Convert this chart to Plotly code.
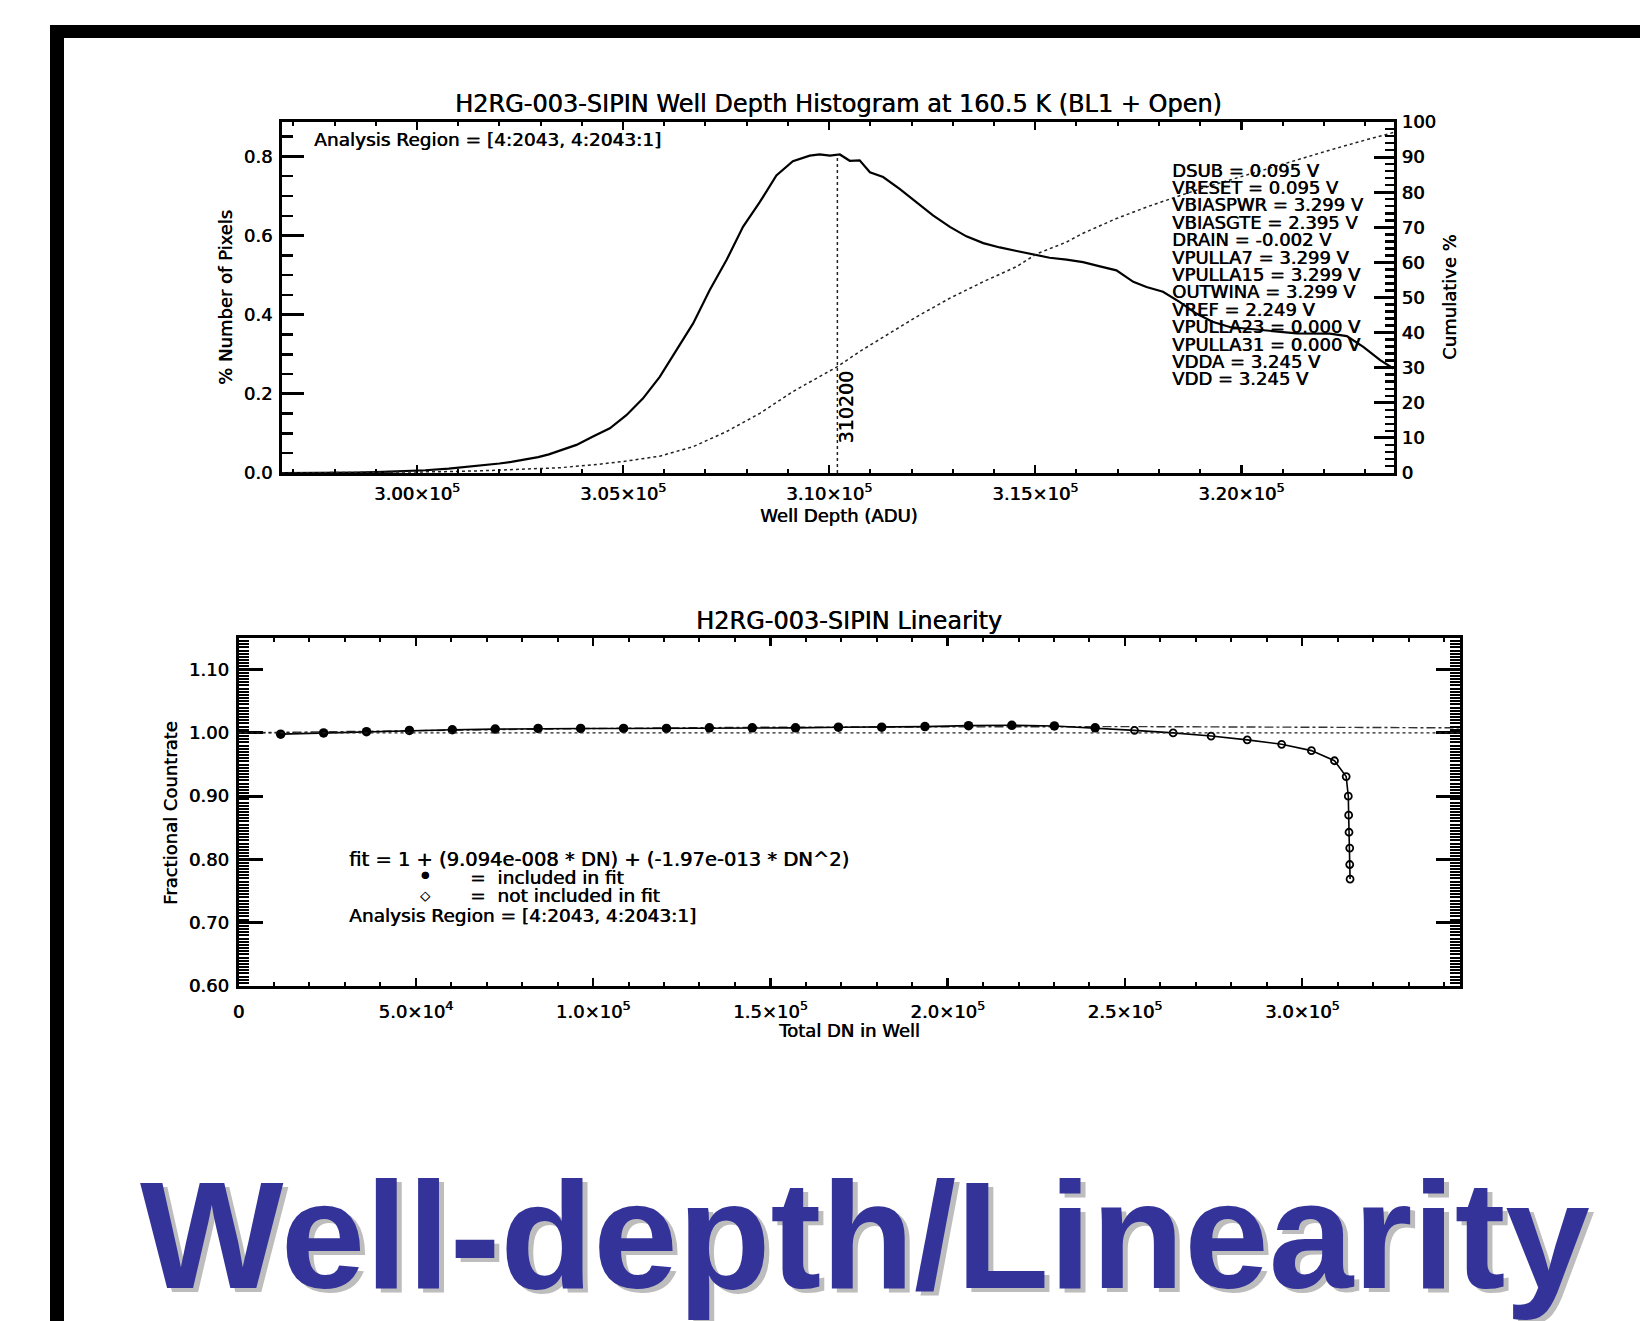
import plotly.graph_objects as go

W, H = 1640, 1321
FONT = "DejaVu Sans"
THICK = "0.6px 0px 0px black"

# ---------------- Top panel: well depth histogram ----------------
hist_x = [296725, 297500, 298500, 299000, 299600, 300200, 300770, 301200, 301640, 302000,
          302290, 302600, 302940, 303200, 303460, 303870, 304270, 304680, 305080, 305480,
          305890, 306290, 306700, 307100, 307510, 307910, 308320, 308720, 309120, 309530,
          309770, 310020, 310260, 310500, 310740, 310990, 311310, 311710, 312120, 312520,
          312930, 313330, 313740, 314140, 314550, 314950, 315350, 315760, 316160, 316570,
          316970, 317380, 317700, 318100, 318510, 318910, 319300, 319720, 320530, 321340,
          322150, 322560, 322960, 323370, 323690]
hist_y = [0.000, 0.000, 0.001, 0.002, 0.004, 0.007, 0.011, 0.015, 0.020, 0.024,
          0.028, 0.033, 0.040, 0.047, 0.056, 0.071, 0.092, 0.113, 0.146, 0.188,
          0.243, 0.310, 0.378, 0.462, 0.538, 0.622, 0.685, 0.752, 0.788, 0.802,
          0.805, 0.802, 0.805, 0.789, 0.790, 0.760, 0.748, 0.718, 0.685, 0.651,
          0.622, 0.598, 0.581, 0.570, 0.561, 0.553, 0.544, 0.539, 0.533, 0.522,
          0.512, 0.483, 0.470, 0.458, 0.432, 0.403, 0.382, 0.369, 0.361, 0.353,
          0.352, 0.346, 0.319, 0.285, 0.264]

cum_x = [296725, 298000, 299500, 300500, 301500, 302500, 303460, 304270, 305080, 305890,
         306700, 307510, 308320, 309120, 310200, 310740, 311310, 312120, 312930, 313740,
         314550, 315030, 315760, 316160, 316970, 317780, 318910, 319720, 320530, 321340,
         322150, 322960, 323690]
cum_y = [0.0, 0.05, 0.2, 0.35, 0.6, 1.0, 1.5, 2.3, 3.4, 4.8,
         7.5, 11.8, 17.0, 23.2, 30.3, 34.6, 38.6, 44.5, 49.8, 54.5,
         58.8, 62.4, 65.8, 68.3, 72.5, 76.1, 80.6, 83.5, 86.3, 89.2,
         92.0, 94.7, 97.0]

peak_x = 310200
peak_y = 0.805
peak_label = "310200"

top_xrange = [296725, 323705]
top_xticks = [300000, 305000, 310000, 315000, 320000]
top_xticklabels = ["3.00×10<sup>5</sup>", "3.05×10<sup>5</sup>", "3.10×10<sup>5</sup>",
                   "3.15×10<sup>5</sup>", "3.20×10<sup>5</sup>"]
top_yrange = [0, 0.887]
top_yticks = [0.0, 0.2, 0.4, 0.6, 0.8]
top_yticklabels = ["0.0", "0.2", "0.4", "0.6", "0.8"]
cum_range = [0, 100]

bias_labels = ["DSUB = 0.095 V", "VRESET = 0.095 V", "VBIASPWR = 3.299 V",
               "VBIASGTE = 2.395 V", "DRAIN = -0.002 V", "VPULLA7 = 3.299 V",
               "VPULLA15 = 3.299 V", "OUTWINA = 3.299 V", "VREF = 2.249 V",
               "VPULLA23 = 0.000 V", "VPULLA31 = 0.000 V", "VDDA = 3.245 V",
               "VDD = 3.245 V"]

# ---------------- Bottom panel: linearity ----------------
incl_x = [11900, 24000, 36100, 48200, 60300, 72400, 84500, 96500, 108600, 120700,
          132800, 144900, 157100, 169200, 181400, 193600, 205900, 218100, 230100, 241600]
incl_y = [0.998, 1.000, 1.002, 1.004, 1.005, 1.006, 1.007, 1.007, 1.007, 1.007,
          1.008, 1.008, 1.008, 1.009, 1.009, 1.010, 1.0115, 1.012, 1.011, 1.008]
excl_x = [252700, 263600, 274300, 284500, 294200, 302600, 309100, 312400, 313000, 313100,
          313200, 313400, 313400, 313500]
excl_y = [1.004, 1.000, 0.995, 0.989, 0.982, 0.972, 0.956, 0.931, 0.900, 0.870,
          0.843, 0.818, 0.792, 0.769]
fit_x = [0, 50000, 100000, 150000, 200000, 250000, 300000, 344500]
fit_y = [1.000, 1.004, 1.007, 1.009, 1.010, 1.010, 1.009, 1.008]
unity_level = 1.0

bot_xrange = [0, 344500]
bot_xticks = [0, 50000, 100000, 150000, 200000, 250000, 300000]
bot_xticklabels = ["0", "5.0×10<sup>4</sup>", "1.0×10<sup>5</sup>", "1.5×10<sup>5</sup>",
                   "2.0×10<sup>5</sup>", "2.5×10<sup>5</sup>", "3.0×10<sup>5</sup>"]
bot_yrange = [0.6, 1.15]
bot_yticks = [0.6, 0.7, 0.8, 0.9, 1.0, 1.1]
bot_yticklabels = ["0.60", "0.70", "0.80", "0.90", "1.00", "1.10"]

fit_text = "fit = 1 + (9.094e-008 * DN) + (-1.97e-013 * DN^2)"
region_text = "Analysis Region = [4:2043, 4:2043:1]"


def px(x):
    return x / W


def py(y):
    return 1 - y / H


fig = go.Figure()

# top traces
fig.add_trace(go.Scatter(x=hist_x, y=hist_y, mode="lines", xaxis="x", yaxis="y",
                         line=dict(color="black", width=2.2), showlegend=False))
fig.add_trace(go.Scatter(x=cum_x, y=cum_y, mode="lines", xaxis="x", yaxis="y2",
                         line=dict(color="#222222", width=1.5, dash="dot"), showlegend=False))
fig.add_trace(go.Scatter(x=[peak_x, peak_x], y=[0, peak_y], mode="lines", xaxis="x", yaxis="y",
                         line=dict(color="#222222", width=1.5, dash="dot"), showlegend=False))

# bottom traces
fig.add_trace(go.Scatter(x=fit_x, y=fit_y, mode="lines", xaxis="x3", yaxis="y3",
                         line=dict(color="#333333", width=1.4, dash="dashdot"), showlegend=False))
fig.add_trace(go.Scatter(x=incl_x + excl_x, y=incl_y + excl_y, mode="lines", xaxis="x3", yaxis="y3",
                         line=dict(color="black", width=1.6), showlegend=False))
fig.add_trace(go.Scatter(x=incl_x, y=incl_y, mode="markers", xaxis="x3", yaxis="y3",
                         marker=dict(symbol="circle", size=9.5, color="black"), showlegend=False))
fig.add_trace(go.Scatter(x=excl_x, y=excl_y, mode="markers", xaxis="x3", yaxis="y3",
                         marker=dict(symbol="circle-open", size=7, color="black",
                                     line=dict(width=1.8, color="black")), showlegend=False))

tickfont = dict(family=FONT, size=18, color="black", shadow=THICK)
common = dict(showline=True, linecolor="black", linewidth=3, ticks="inside",
              tickcolor="black", showgrid=False, zeroline=False, tickfont=tickfont,
              fixedrange=True, automargin=False)

top_dom_x = [px(282), px(1394)]
top_dom_y = [py(473), py(122)]
bot_dom_x = [px(238.5), px(1460)]
bot_dom_y = [py(986), py(638)]

fig.update_layout(
    width=W, height=H, autosize=False,
    margin=dict(l=0, r=0, t=0, b=0, pad=0, autoexpand=False),
    paper_bgcolor="white", plot_bgcolor="white",
    showlegend=False,
    xaxis=dict(common, domain=top_dom_x, range=top_xrange, anchor="y",
               tickmode="array", tickvals=top_xticks, ticktext=top_xticklabels,
               ticklen=8, tickwidth=2.5, mirror="ticks", ticklabelstandoff=2,
               minor=dict(dtick=1000, ticklen=4, tickwidth=2, ticks="inside", tickcolor="black")),
    yaxis=dict(common, domain=top_dom_y, range=top_yrange, anchor="x",
               tickmode="array", tickvals=top_yticks, ticktext=top_yticklabels,
               ticklen=22, tickwidth=3, ticklabelstandoff=3,
               minor=dict(dtick=0.05, ticklen=11, tickwidth=2.5, ticks="inside", tickcolor="black")),
    yaxis2=dict(common, range=cum_range, overlaying="y", side="right", anchor="x",
                tickmode="linear", tick0=0, dtick=10,
                ticklen=20, tickwidth=3, ticklabelstandoff=1,
                minor=dict(dtick=2, ticklen=9, tickwidth=2.5, ticks="inside", tickcolor="black")),
    xaxis3=dict(common, domain=bot_dom_x, range=bot_xrange, anchor="y3",
                tickmode="array", tickvals=bot_xticks, ticktext=bot_xticklabels,
                ticklen=8, tickwidth=2.5, mirror="ticks", ticklabelstandoff=7,
                minor=dict(dtick=10000, ticklen=4, tickwidth=2, ticks="inside", tickcolor="black")),
    yaxis3=dict(common, domain=bot_dom_y, range=bot_yrange, anchor="x3",
                tickmode="array", tickvals=bot_yticks, ticktext=bot_yticklabels,
                ticklen=24, tickwidth=3, mirror="ticks", ticklabelstandoff=3,
                minor=dict(dtick=0.005, ticklen=10, tickwidth=2, ticks="inside", tickcolor="black")),
)

shapes = [
    # outer frame (top bar and left bar)
    dict(type="rect", xref="paper", yref="paper", x0=px(50), x1=1.05, y0=py(38), y1=py(25),
         fillcolor="black", line=dict(width=0), layer="above"),
    dict(type="rect", xref="paper", yref="paper", x0=px(50), x1=px(64), y0=-0.05, y1=py(25),
         fillcolor="black", line=dict(width=0), layer="above"),
    # unity reference line in linearity panel
    dict(type="line", xref="x3 domain", yref="y3", x0=0, x1=1, y0=unity_level, y1=unity_level,
         line=dict(color="#222222", width=1.4, dash="dot")),
]
fig.update_layout(shapes=shapes)

ann = []


def text(x, y, s, size=18, xanchor="left", yanchor="middle", angle=0, family=FONT,
         color="black", weight="normal", xref="paper", yref="paper", shadow=THICK):
    ann.append(dict(x=x, y=y, xref=xref, yref=yref, text=s, showarrow=False,
                    xanchor=xanchor, yanchor=yanchor, textangle=angle,
                    font=dict(family=family, size=size, color=color, weight=weight,
                              shadow=shadow),
                    borderpad=0))


# top panel texts
text(px(838), py(104), "H2RG-003-SIPIN Well Depth Histogram at 160.5 K (BL1 + Open)",
     size=24, xanchor="center", shadow="0.4px 0px 0px black")
text(px(838), py(515), "Well Depth (ADU)", size=18, xanchor="center")
text(px(225), py(298), "% Number of Pixels", size=18, xanchor="center", angle=-90)
text(px(1449), py(297), "Cumulative %", size=18, xanchor="center", angle=-90)
text(px(313), py(139), region_text, size=18.5)
for i, s in enumerate(bias_labels):
    text(px(1171), py(170 + 17.4 * i), s, size=18)
text(310420, 0.1666, peak_label, size=19, xanchor="center", angle=-90, xref="x", yref="y")

# bottom panel texts
text(px(849), py(621), "H2RG-003-SIPIN Linearity", size=24, xanchor="center",
     shadow="0.4px 0px 0px black")
text(px(849), py(1030), "Total DN in Well", size=18, xanchor="center")
text(px(170), py(813), "Fractional Countrate", size=18, xanchor="center", angle=-90)
text(px(348), py(859), fit_text, size=19.5)
text(px(425), py(877), "•", size=24, xanchor="center")
text(px(469), py(877), "=  included in fit", size=18.5)
text(px(425), py(895), "◇", size=13, xanchor="center")
text(px(469), py(895), "=  not included in fit", size=18.5)
text(px(348), py(915), region_text, size=18.5)

# big slide title with shadow
title_text = "Well-depth/Linearity"
text(px(144), py(1239), title_text, size=152, family="Liberation Sans, Arial, sans-serif",
     color="#bdbdbd", weight="bold", shadow="none")
text(px(139), py(1235), title_text, size=152, family="Liberation Sans, Arial, sans-serif",
     color="#333399", weight="bold", shadow="none")

fig.update_layout(annotations=ann)

fig.write_html(
    "out.html",
    config={"displayModeBar": False, "staticPlot": True},
    post_script=(
        "document.documentElement.style.margin='0';"
        "document.documentElement.style.overflow='hidden';"
        "document.body.style.margin='0';document.body.style.padding='0';"
        "document.body.style.overflow='hidden';"
        "var gd=document.getElementById('{plot_id}');"
        "gd.style.position='fixed';gd.style.top='0px';gd.style.left='0px';"
    ),
)
